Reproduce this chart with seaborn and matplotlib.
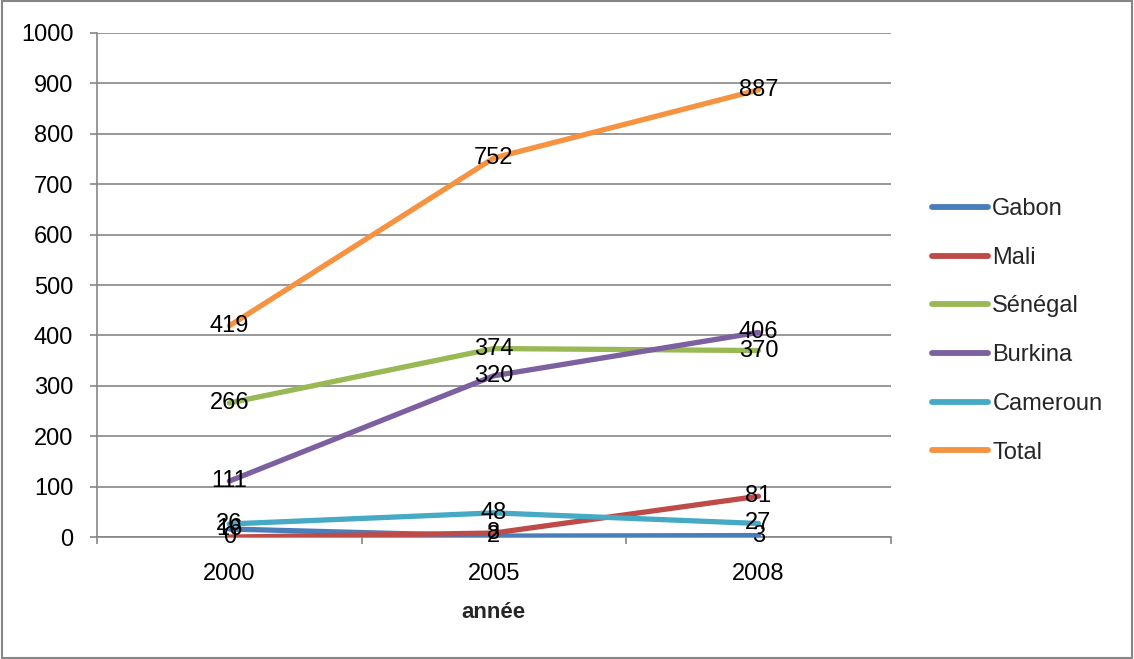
import matplotlib
matplotlib.use("Agg")
import matplotlib.pyplot as plt
import seaborn as sns
import pandas as pd
from matplotlib.patches import Rectangle

# Number of entries per country and year
years = ["2000", "2005", "2008"]
countries = ["Gabon", "Mali", "Sénégal", "Burkina", "Cameroun", "Total"]
gabon = [16, 2, 3]
mali = [0, 8, 81]
senegal = [266, 374, 370]
burkina = [111, 320, 406]
cameroun = [26, 48, 27]
total = [419, 752, 887]
series = [gabon, mali, senegal, burkina, cameroun, total]

colors = ["#4A7EBB", "#BE4B48", "#98B954", "#7D60A0", "#46AAC5", "#F69240"]

rows = []
for name, vals in zip(countries, series):
    for i, (yr, v) in enumerate(zip(years, vals)):
        rows.append({"pos": i, "année": yr, "pays": name, "valeur": v})
df = pd.DataFrame(rows)

sns.set_theme(style="white")
plt.rcParams["font.family"] = ["Liberation Sans", "DejaVu Sans"]

FS = 17

fig = plt.figure(figsize=(11.34, 6.59), dpi=100)
ax = fig.add_axes([0.0855, 0.185, 0.7, 0.765])

sns.lineplot(data=df, x="pos", y="valeur", hue="pays", hue_order=countries,
             palette=colors, linewidth=3.8, ax=ax, legend=True, zorder=3,
             solid_capstyle="round")

# value labels centred on each point
for name, vals in zip(countries, series):
    for i, v in enumerate(vals):
        ax.text(i, v, str(v), ha="center", va="center", fontsize=FS,
                color="black", zorder=5)

ax.set_xlim(-0.5, 2.5)
ax.set_ylim(0, 1000)
ax.set_yticks(range(0, 1001, 100))
ax.set_xticks([0, 1, 2])
ax.set_xticklabels(years)
ax.set_xticks([-0.5, 0.5, 1.5, 2.5], minor=True)

grid_c = "#868686"
ax.yaxis.grid(True, color=grid_c, linewidth=1.2, zorder=0)
ax.xaxis.grid(False)
for s in ["top", "right"]:
    ax.spines[s].set_visible(False)
for s in ["left", "bottom"]:
    ax.spines[s].set_color(grid_c)
    ax.spines[s].set_linewidth(1.2)

ax.tick_params(axis="y", which="major", left=True, length=5, width=1.2,
               color=grid_c, pad=12, labelsize=FS, labelcolor="black")
ax.tick_params(axis="x", which="major", bottom=False, pad=13,
               labelsize=FS, labelcolor="black")
ax.tick_params(axis="x", which="minor", bottom=True, length=5, width=1.2,
               color=grid_c)

ax.set_xlabel("année", fontsize=16, fontweight="bold", labelpad=12)
ax.set_ylabel("")

handles, labels = ax.get_legend_handles_labels()
for h in handles:
    h.set_linewidth(4.2)
    h.set_solid_capstyle("round")
ax.legend(handles, labels, loc="center left", bbox_to_anchor=(0.822, 0.498),
          bbox_transform=fig.transFigure, frameon=False, fontsize=FS,
          handlelength=2.35, handletextpad=0.2, labelspacing=1.13,
          borderaxespad=0, borderpad=0)

fig.patches.append(Rectangle((0.0015, 0.002), 0.997, 0.996,
                             transform=fig.transFigure, fill=False,
                             edgecolor=grid_c, linewidth=1.5))

fig.savefig("out.png", dpi=100, facecolor="white")
